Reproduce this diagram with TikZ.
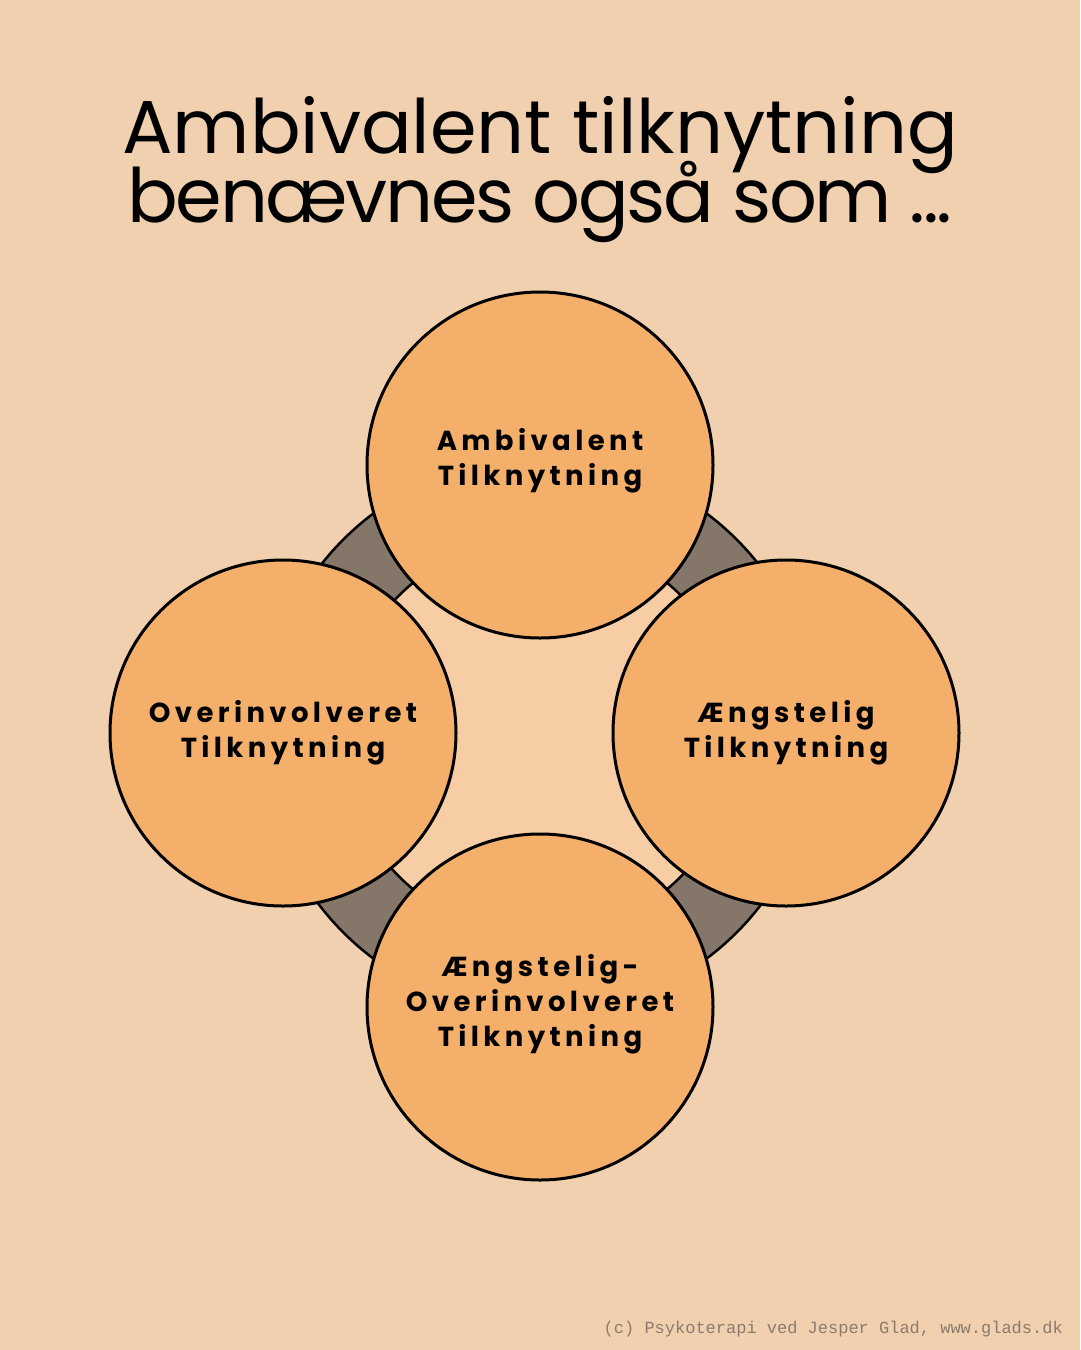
\documentclass[tikz,border=0pt]{standalone}
\usepackage{fontspec}
\setmainfont{Poppins}
\newfontfamily\titlefont{Poppins}
\newfontfamily\titlefonttight[LetterSpace=-3]{Poppins}
\newfontfamily\labfont[LetterSpace=16]{Poppins}
\newfontfamily\footfont{Liberation Mono}
\definecolor{bgc}{HTML}{F0D0AE}
\definecolor{circc}{HTML}{F4B06A}
\definecolor{ringc}{HTML}{85766A}
\definecolor{innerc}{HTML}{F7CDA6}
\definecolor{footc}{HTML}{8C7B6B}
\tikzset{
  bubble/.style={circle, draw=black, line width=3pt, fill=circc, minimum size=346pt, inner sep=0pt},
  lab/.style={align=center, font=\labfont\bfseries\fontsize{27.5}{35}\selectfont, text=black},
  titletxt/.style={anchor=base, font=\titlefont\fontsize{75}{75}\selectfont, text=black, inner sep=0pt},
}
\begin{document}
\begin{tikzpicture}[x=1pt,y=-1pt]
\useasboundingbox (0,0) rectangle (1080,1350);
\fill[bgc] (0,0) rectangle (1080,1350);
\node[titletxt] (t1) at (540,153) {Ambivalent tilknytning};
\node[titletxt, font=\titlefonttight\fontsize{75}{75}\selectfont] (t2) at (540,222) {benævnes også som ...};
% ring
\coordinate (c) at (540,736);
\fill[ringc, even odd rule] (c) circle (278) (c) circle (199);
\fill[innerc] (c) circle (199);
\draw[line width=2.5pt] (c) circle (278) (c) circle (199);
% circles
\node[bubble] (top) at (540,465) {};
\node[bubble] (right) at (786,733) {};
\node[bubble] (bottom) at (540,1007) {};
\node[bubble] (left) at (283,733) {};
\node[lab] (ltop) at (540,461) {Ambivalent\\Tilknytning};
\node[lab] (lright) at (786,733) {Ængstelig\\Tilknytning};
\node[lab] (lbottom) at (540,1004) {Ængstelig-\\Overinvolveret\\Tilknytning};
\node[lab] (lleft) at (283,733) {Overinvolveret\\Tilknytning};
\node[anchor=base east, inner sep=0pt, font=\footfont\fontsize{17}{17}\selectfont, text=footc] (foot) at (1063,1333) {(c) Psykoterapi ved Jesper Glad, www.glads.dk};
\end{tikzpicture}
\end{document}
